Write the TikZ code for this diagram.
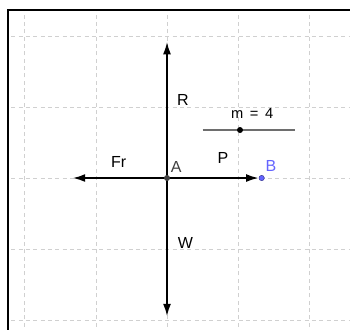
\documentclass[tikz,border=0pt]{standalone}
\usepackage{fontspec}
\setmainfont{Liberation Sans}
\usepackage{xcolor}
\usepackage{tikz}
\usetikzlibrary{arrows.meta,positioning}

\definecolor{gridgray}{RGB}{208,208,208}
\definecolor{ptblue}{RGB}{100,100,255}
\definecolor{ptdark}{RGB}{64,64,64}
\definecolor{slidergray}{RGB}{110,110,110}

\begin{document}
\begin{tikzpicture}[
  x=53.25pt, y=53.25pt,
  gridline/.style={gridgray, dash pattern=on 3pt off 2.5pt, line width=0.75pt},
  frameline/.style={line width=1.5pt, line cap=rect},
  force/.style={-{Latex[length=9.5pt,width=6pt]}, line width=1.5pt},
  pointA/.style={circle, fill=ptdark, minimum size=4.5pt, inner sep=0pt},
  pointB/.style={circle, fill=ptblue, draw=ptblue!60!black, line width=0.4pt, minimum size=4pt, inner sep=0pt},
  knob/.style={circle, fill=black, minimum size=4.5pt, inner sep=0pt},
  slider/.style={slidergray, line width=1pt},
  lbl/.style={font=\fontsize{12}{14}\selectfont, inner sep=0pt},
  sliderlbl/.style={font=\fontsize{11}{13}\selectfont, inner sep=0pt},
]
\useasboundingbox (-2.352,-2.127) rectangle (2.577,2.507);

% grid inside the window
\begin{scope}
  \clip (-2.239,-2.127) rectangle (2.577,2.373);
  \foreach \g in {-2,...,2} {
    \draw[gridline] (\g,-2.3) -- (\g,2.6);
    \draw[gridline] (-2.4,\g) -- (2.7,\g);
  }
\end{scope}
\draw[frameline] (-2.239,-2.3) -- (-2.239,2.373) -- (2.7,2.373);

% points
\coordinate (A) at (0,0);
\node[pointB] (B) at (1.333,0) {};
\coordinate (Rtip) at (0,1.92);
\coordinate (Wtip) at (0,-1.95);
\coordinate (Frtip) at (-1.33,0);

% forces
\draw[force] (A) -- (Rtip);
\draw[force] (A) -- (Wtip);
\draw[force] (A) -- (Frtip);
\draw[force] (A) -- (B);
\node[pointA] (Adot) at (A) {};

% slider m
\coordinate (sL) at (0.503,0.676);
\coordinate (sR) at (1.803,0.676);
\draw[slider] (sL) -- (sR);
\node[knob] (m) at (1.028,0.676) {};
\node[sliderlbl] (mlbl) at (1.20,0.904) {m\hspace{0.45em}=\hspace{0.45em}4};

% labels
\node[lbl] (lR) at (0.225,1.094) {R};
\node[lbl] (lFr) at (-0.68,0.222) {Fr};
\node[lbl, text=ptdark] (lA) at (0.131,0.155) {A};
\node[lbl] (lP) at (0.789,0.282) {P};
\node[lbl, text=ptblue] (lB) at (1.465,0.172) {B};
\node[lbl] (lW) at (0.258,-0.911) {W};

\end{tikzpicture}
\end{document}
